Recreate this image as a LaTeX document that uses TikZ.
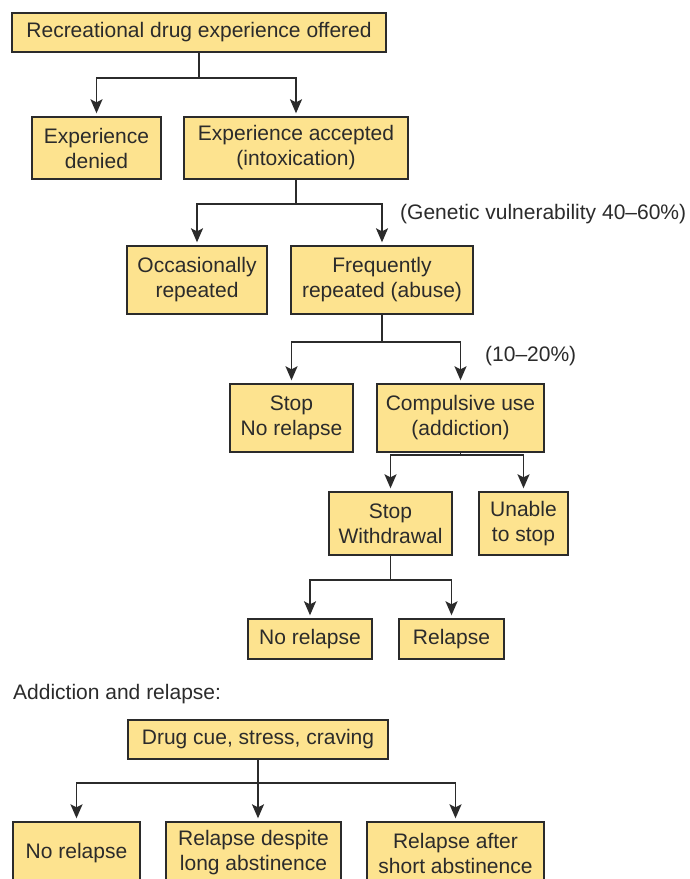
\documentclass[tikz,border=0pt]{standalone}
\usepackage{fontspec}
\setmainfont{Liberation Sans}
\usetikzlibrary{arrows.meta}
\definecolor{boxfill}{HTML}{FDE38F}
\definecolor{ink}{HTML}{2B2B2B}
\tikzset{
  box/.style={draw=ink, fill=boxfill, line width=1.4pt, align=center, inner sep=0pt,
    text=ink, font=\fontsize{21}{25}\selectfont},
  conn/.style={draw=ink, line width=1.5pt},
  arr/.style={conn, -{Stealth[length=14pt,width=12pt,inset=3pt]}, shorten >=3pt},
  lbl/.style={text=ink, inner sep=0pt, anchor=base west, font=\fontsize{21}{25}\selectfont}
}
\begin{document}
\begin{tikzpicture}[x=1pt,y=-1pt]
\useasboundingbox (0,0) rectangle (690,879);
\clip (0,0) rectangle (690,879);
\fill[white] (0,0) rectangle (690,879);

\node[box, minimum width=374pt, minimum height=39pt] (top) at (199,32.5) {Recreational drug experience offered};
\node[box, minimum width=129pt, minimum height=62pt] (denied) at (96.5,148) {Experience\\denied};
\node[box, minimum width=224pt, minimum height=62pt] (accepted) at (296,148) {Experience accepted\\(intoxication)};
\node[box, minimum width=140pt, minimum height=68pt] (occas) at (197,280) {Occasionally\\repeated};
\node[box, minimum width=182pt, minimum height=68pt] (freq) at (382,280) {Frequently\\repeated (abuse)};
\node[box, minimum width=123pt, minimum height=68pt] (stopnr) at (291.5,418) {Stop\\No relapse};
\node[box, minimum width=167pt, minimum height=68pt] (comp) at (460.5,418) {Compulsive use\\(addiction)};
\node[box, minimum width=123pt, minimum height=63pt] (stopw) at (390.5,523.5) {Stop\\Withdrawal};
\node[box, minimum width=89pt, minimum height=63pt] (unable) at (523.5,523.5) {Unable\\to stop};
\node[box, minimum width=124pt, minimum height=40pt] (norel) at (310,639) {No relapse};
\node[box, minimum width=105pt, minimum height=40pt] (relapse) at (451.5,639) {Relapse};
\node[box, minimum width=260pt, minimum height=39pt] (cue) at (258,739.5) {Drug cue, stress, craving};
\node[box, minimum width=127pt, minimum height=62pt] (norel2) at (76.5,853) {No relapse};
\node[box, minimum width=175pt, minimum height=62pt] (despite) at (253.5,853) {Relapse despite\\long abstinence};
\node[box, minimum width=177pt, minimum height=62pt] (after) at (455.5,853) {Relapse after\\short abstinence};

\node[lbl] (gen) at (400,219) {(Genetic vulnerability 40–60\%)};
\node[lbl] (pct) at (485,361) {(10–20\%)};
\node[lbl] (title2) at (13,699) {Addiction and relapse:};

% connectors
\coordinate (b1) at (199,78);
\draw[conn] (top.south) -- (top.south |- b1);
\draw[arr] (top.south |- b1) -| (denied.north);
\draw[arr] (top.south |- b1) -| (accepted.north);

\coordinate (b2) at (296,204);
\draw[conn] (accepted.south) -- (accepted.south |- b2);
\draw[arr] (accepted.south |- b2) -| (occas.north);
\draw[arr] (accepted.south |- b2) -| (freq.north);

\coordinate (b3) at (382,342);
\draw[conn] (freq.south) -- (freq.south |- b3);
\draw[arr] (freq.south |- b3) -| (stopnr.north);
\draw[arr] (freq.south |- b3) -| (comp.north);

\coordinate (b4) at (460,455);
\draw[conn] (comp.south) -- (comp.south |- b4);
\draw[arr] (comp.south |- b4) -| (stopw.north);
\draw[arr] (comp.south |- b4) -| (unable.north);

\coordinate (b5) at (390,580);
\draw[conn] (stopw.south) -- (stopw.south |- b5);
\draw[arr] (stopw.south |- b5) -| (norel.north);
\draw[arr] (stopw.south |- b5) -| (relapse.north);

\coordinate (b6) at (258,783);
\draw[conn] (cue.south) -- (cue.south |- b6);
\draw[arr] (cue.south |- b6) -| (norel2.north);
\draw[arr] (cue.south |- b6) -- (cue.south |- despite.north);
\draw[arr] (cue.south |- b6) -| (after.north);
\end{tikzpicture}
\end{document}
